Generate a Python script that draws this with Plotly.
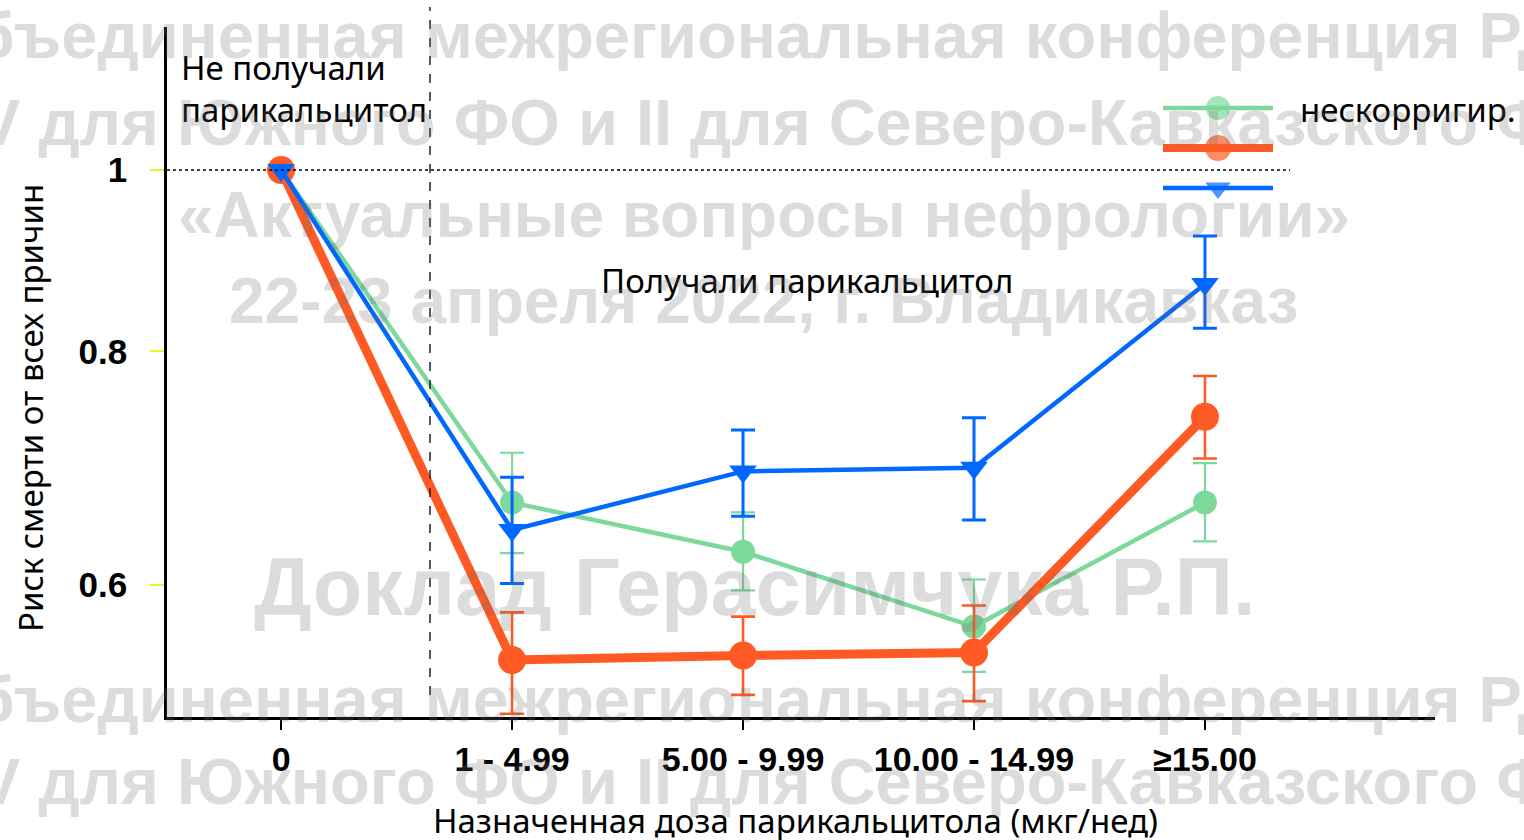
import plotly.graph_objects as go

# Dose groups (x categories)
categories = ["0", "1 - 4.99", "5.00 - 9.99", "10.00 - 14.99", "≥15.00"]

# Hazard ratio of all-cause death, unadjusted model
unadj = [1.0, 0.664, 0.625, 0.570, 0.664]
unadj_hi = [1.0, 0.706, 0.656, 0.604, 0.697]
unadj_lo = [1.0, 0.624, 0.596, 0.539, 0.633]

# Adjusted model 1
adj1 = [1.0, 0.547, 0.550, 0.552, 0.738]
adj1_hi = [1.0, 0.580, 0.577, 0.585, 0.776]
adj1_lo = [1.0, 0.512, 0.524, 0.520, 0.701]

# Adjusted model 2
adj2 = [1.0, 0.642, 0.690, 0.693, 0.869]
adj2_hi = [1.0, 0.685, 0.726, 0.737, 0.922]
adj2_lo = [1.0, 0.601, 0.653, 0.650, 0.823]

y_ticks = [0.6, 0.8, 1.0]
y_tick_text = ["0.6", "0.8", "1"]

legend_label = "нескорригир."

W, H = 1524, 840
L, R, T, B = 167, 1435, 27, 717          # plot area in pixels
Y_RANGE = [-0.2925, 0.0765]              # log10 range of the y axis

GREEN = "rgb(125,216,155)"
RED = "rgb(255,90,35)"
BLUE = "rgb(0,104,255)"

TEXT_FONT = "Noto Sans, Open Sans, DejaVu Sans, sans-serif"
TICK_FONT = "Liberation Sans, Arial, sans-serif"


def px(x):
    return (x - L) / (R - L)


def py(y):
    return (B - y) / (B - T)


x = list(range(len(categories)))

fig = go.Figure()

series = [
    (unadj, unadj_hi, unadj_lo, GREEN, 4.5, "circle", 24, 2.2),
    (adj1, adj1_hi, adj1_lo, RED, 9, "circle", 28, 2.6),
    (adj2, adj2_hi, adj2_lo, BLUE, 4.5, "triangle-down", 24, 3),
]

for vals, hi, lo, color, lw, sym, ms, ew in series:
    # confidence intervals (treated groups only)
    fig.add_trace(go.Scatter(
        x=x[1:], y=vals[1:], mode="markers",
        marker=dict(size=2, color=color, opacity=0),
        error_y=dict(type="data", symmetric=False,
                     array=[h - v for h, v in zip(hi[1:], vals[1:])],
                     arrayminus=[v - l for l, v in zip(lo[1:], vals[1:])],
                     color=color, thickness=ew, width=12),
        showlegend=False, hoverinfo="skip"))
    fig.add_trace(go.Scatter(
        x=x, y=vals, mode="lines+markers",
        line=dict(color=color, width=lw),
        marker=dict(symbol=sym, size=ms, color=color, line=dict(width=0)),
        showlegend=False))

# Legend samples drawn on an overlay axis spanning the plot area
legend_rows = [(108, GREEN, 4.5, "circle", 24), (148, RED, 8, "circle", 26),
               (188, BLUE, 4.5, "triangle-down", 22)]
for yy, color, lw, sym, ms in legend_rows:
    fig.add_trace(go.Scatter(
        x=[px(1163), px(1218), px(1273)], y=[py(yy)] * 3,
        xaxis="x2", yaxis="y2", mode="lines+markers",
        line=dict(color=color, width=lw),
        marker=dict(symbol=sym, size=[0, ms, 0], color=color, line=dict(width=0)),
        showlegend=False, hoverinfo="skip"))

# reference line at HR = 1
y1_paper = (0 - Y_RANGE[0]) / (Y_RANGE[1] - Y_RANGE[0])
shapes = [
    dict(type="line", xref="paper", yref="paper", x0=0, x1=px(1290),
         y0=y1_paper, y1=y1_paper, line=dict(color="black", width=1.5, dash="dot")),
    dict(type="line", xref="paper", yref="paper", x0=px(430), x1=px(430),
         y0=py(695), y1=py(7), line=dict(color="#222", width=1.5, dash="dash")),
]

annotations = []


def txt(text, xp, yp, size=33, anchor="left", color="black", font=TEXT_FONT, weight="normal", angle=0):
    annotations.append(dict(text=text, x=px(xp), y=py(yp), xref="paper", yref="paper",
                            xanchor=anchor, yanchor="middle", showarrow=False,
                            textangle=angle,
                            font=dict(family=font, size=size, color=color, weight=weight)))


txt("Не получали", 179, 68)
txt("парикальцитол", 179, 109)
txt("Получали парикальцитол", 807, 280, anchor="center")
txt(legend_label, 1298, 109)
txt("Назначенная доза парикальцитола (мкг/нед)", 795, 820, anchor="center")
txt("Риск смерти от всех причин", 31, 408, anchor="center", angle=-90)

# conference watermark
WM = "rgba(110,110,110,0.24)"
wm_lines = [
    ("Объединенная межрегиональная конференция РДО", 769, 35, 65),
    ("V для Южного ФО и II для Северо-Кавказского ФО", 789, 123, 65),
    ("«Актуальные вопросы нефрологии»", 764, 215, 64),
    ("22-23 апреля 2022, г. Владикавказ", 764, 301, 64),
    ("Доклад Герасимчука Р.П.", 755, 587, 81),
    ("Объединенная межрегиональная конференция РДО", 769, 699, 65),
    ("V для Южного ФО и II для Северо-Кавказского ФО", 789, 781, 65),
]
for t, xc, yc, fs in wm_lines:
    txt(t, xc, yc, size=fs, anchor="center", color=WM, font=TICK_FONT, weight="bold")

fig.update_layout(
    width=W, height=H,
    margin=dict(l=L, r=W - R, t=T, b=H - B, pad=0),
    paper_bgcolor="white", plot_bgcolor="white",
    shapes=shapes, annotations=annotations,
    xaxis=dict(range=[-0.494, 4.996], tickvals=x, ticktext=categories,
               showline=True, linecolor="black", linewidth=2.5,
               ticks="outside", ticklen=10, tickwidth=2, tickcolor="black",
               showgrid=False, zeroline=False,
               tickfont=dict(family=TICK_FONT, size=34, color="black", weight="bold")),
    yaxis=dict(type="log", range=Y_RANGE, tickvals=y_ticks, ticktext=y_tick_text,
               showline=True, linecolor="black", linewidth=2.5,
               ticks="outside", ticklen=14, tickwidth=2, tickcolor="rgb(240,240,40)",
               ticklabelstandoff=16,
               showgrid=False, zeroline=False,
               tickfont=dict(family=TICK_FONT, size=35, color="black", weight="bold")),
    xaxis2=dict(overlaying="x", range=[0, 1], visible=False, anchor="y2"),
    yaxis2=dict(overlaying="y", range=[0, 1], visible=False, anchor="x2"),
)

fig.write_html("out.html")
